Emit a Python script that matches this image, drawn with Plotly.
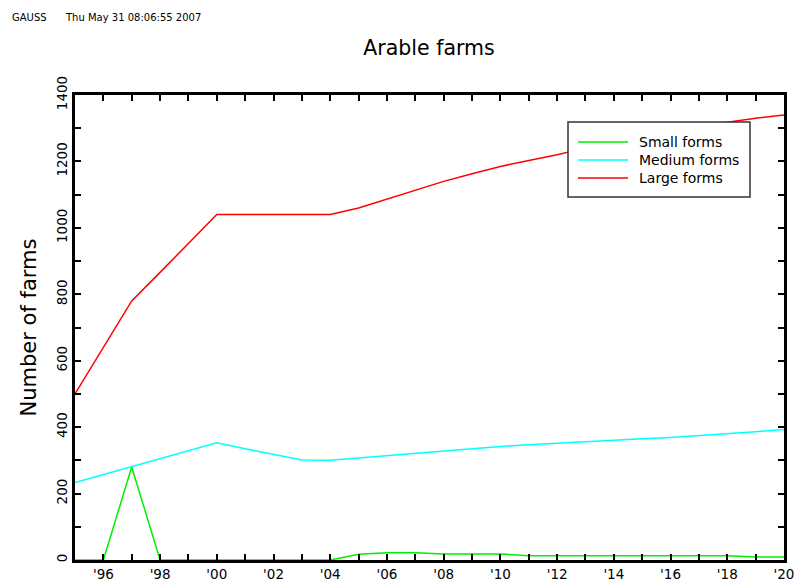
import plotly.graph_objects as go

# Annual farm counts by size class
years = list(range(1995, 2021))
small_farms = [0, 0, 280, 0, 0, 0, 0, 0, 0, 0,
               17, 22, 22, 18, 18, 18, 13, 13, 13, 13,
               13, 13, 13, 13, 9, 9]
medium_farms = [233, 257, 281, 305, 329, 353, 335, 318, 301, 300,
                307, 315, 322, 330, 337, 342, 347, 352, 357, 361,
                365, 369, 374, 380, 386, 393]
large_farms = [500, 640, 780, 866, 953, 1040, 1040, 1040, 1040, 1040,
               1060, 1087, 1115, 1140, 1163, 1185, 1203, 1220, 1240, 1258,
               1275, 1290, 1305, 1318, 1330, 1340]

series_names = ["Small forms", "Medium forms", "Large forms"]
series_colors = ["#00ee00", "#00ffff", "#ff0000"]

# Tick marks every year, labels on even years as '96, '98, ...
x_tickvals = years
x_ticktext = [f"'{y % 100:02d}" if y % 2 == 0 else "" for y in years]
y_tickvals = list(range(0, 1401, 100))
y_ticktext = [str(v) if v % 200 == 0 else "" for v in y_tickvals]

FONT = "DejaVu Sans"
W, H = 797, 583
ML, MR, MT, MB = 75, 13, 95, 23
PW, PH = W - ML - MR, H - MT - MB


def px_x(px):
    """Page pixel column -> paper x."""
    return (px - ML) / PW


def px_y(py):
    """Page pixel row -> paper y."""
    return (H - MB - py) / PH


fig = go.Figure()
for name, vals, col in zip(series_names,
                           [small_farms, medium_farms, large_farms],
                           series_colors):
    fig.add_trace(go.Scatter(
        x=years, y=vals, name=name, mode="lines",
        line=dict(color=col, width=1.5),
    ))

axis_common = dict(
    showline=True, linecolor="black", linewidth=2.5, mirror="ticks",
    ticks="inside", ticklen=6, tickwidth=1.5, tickcolor="black",
    showgrid=False, zeroline=False, automargin=False,
    tickfont=dict(family=FONT, size=13.5, color="black"),
)

fig.update_layout(
    width=W, height=H,
    paper_bgcolor="white", plot_bgcolor="white",
    margin=dict(l=ML, r=MR, t=MT, b=MB, autoexpand=False),
    font=dict(family=FONT, color="black"),
    title=dict(text="Arable farms", x=429 / W,
               xanchor="center", y=1 - 48 / H, yanchor="middle",
               font=dict(family=FONT, size=20.5, color="black")),
    xaxis=dict(range=[1995, 2020], tickmode="array",
               tickvals=x_tickvals, ticktext=x_ticktext, tickangle=0,
               **axis_common),
    yaxis=dict(range=[0, 1400], tickmode="array",
               tickvals=y_tickvals, ticktext=y_ticktext, tickangle=-90,
               title=dict(text="Number of farms", standoff=12,
                          font=dict(family=FONT, size=21, color="black")),
               **axis_common),
    showlegend=False,
)

# Legend box with line samples and labels
fig.add_shape(type="rect", xref="paper", yref="paper",
              x0=px_x(568), x1=px_x(750), y0=px_y(197), y1=px_y(122),
              fillcolor="white", line=dict(color="#333333", width=1.5),
              layer="above")
for i, (name, col) in enumerate(zip(series_names, series_colors)):
    yy = 142 + 18 * i
    fig.add_shape(type="line", xref="paper", yref="paper",
                  x0=px_x(578), x1=px_x(628), y0=px_y(yy), y1=px_y(yy),
                  line=dict(color=col, width=1.5), layer="above")
    fig.add_annotation(text=name, xref="paper", yref="paper",
                       x=px_x(637), y=px_y(yy), xanchor="left",
                       yanchor="middle", showarrow=False,
                       font=dict(family=FONT, size=14, color="black"))

fig.add_annotation(text="GAUSS", xref="paper", yref="paper",
                   x=px_x(10), y=px_y(17),
                   xanchor="left", yanchor="middle", showarrow=False,
                   font=dict(family=FONT, size=10, color="black"))
fig.add_annotation(text="Thu May 31 08:06:55 2007", xref="paper", yref="paper",
                   x=px_x(63), y=px_y(17),
                   xanchor="left", yanchor="middle", showarrow=False,
                   font=dict(family=FONT, size=10, color="black"))

fig.write_html("out.html")
